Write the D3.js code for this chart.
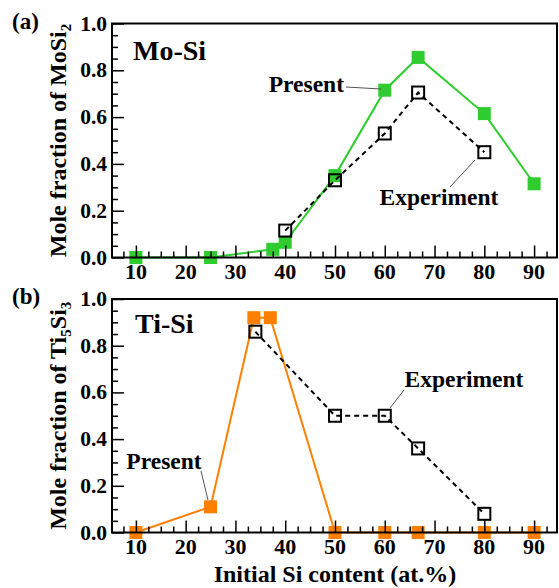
<!DOCTYPE html>
<html>
<head>
<meta charset="utf-8">
<script src="https://cdn.jsdelivr.net/npm/d3@7"></script>
<style>
  html, body { margin: 0; padding: 0; background: #fff; }
  svg { display: block; font-family: "Liberation Serif", "Times New Roman", serif; font-weight: bold; }
</style>
</head>
<body>
<svg id="chart" width="559" height="588"></svg>
<script>
// Shared axis ticks
const xTickValues = [10, 20, 30, 40, 50, 60, 70, 80, 90];
const yTickValues = [0, 0.2, 0.4, 0.6, 0.8, 1.0];

// (a) Mo-Si: mole fraction of MoSi2
const moSiPresentX = [10, 25, 37.5, 40, 50, 60, 66.7, 80, 90];
const moSiPresentY = [0, 0, 0.035, 0.065, 0.35, 0.715, 0.855, 0.615, 0.315];
const moSiExpX = [40, 50, 60, 66.7, 80];
const moSiExpY = [0.115, 0.33, 0.53, 0.705, 0.45];

// (b) Ti-Si: mole fraction of Ti5Si3
const tiSiPresentX = [10, 25, 33.7, 37, 50, 60, 66.7, 80, 90];
const tiSiPresentY = [0, 0.11, 0.92, 0.92, 0, 0, 0, 0, 0];
const tiSiExpX = [34, 50, 60, 66.7, 80];
const tiSiExpY = [0.86, 0.5, 0.5, 0.36, 0.08];

const svg = d3.select("#chart");
svg.append("rect").attr("width", 559).attr("height", 588).attr("fill", "#fff");

const plotLeft = 112, plotRight = 557;
const x = d3.scaleLinear().domain([5.2, 94.6]).range([plotLeft, plotRight]);

const zip = (xs, ys) => xs.map((v, i) => [v, ys[i]]);

function drawPanel(cfg) {
  const y = d3.scaleLinear().domain([0, 1]).range([cfg.bottom, cfg.top]);
  const g = svg.append("g");
  const line = d3.line().x(d => x(d[0])).y(d => y(d[1]));
  const present = zip(cfg.presentX, cfg.presentY);
  const exp = zip(cfg.expX, cfg.expY);
  const ms = 13;

  // calculated series
  g.append("path").datum(present).attr("d", line)
    .attr("fill", "none").attr("stroke", cfg.color).attr("stroke-width", 2);
  g.selectAll(".pm").data(present).enter().append("rect")
    .attr("x", d => x(d[0]) - ms / 2).attr("y", d => y(d[1]) - ms / 2)
    .attr("width", ms).attr("height", ms).attr("fill", cfg.color);

  // experimental series
  g.append("path").datum(exp).attr("d", line)
    .attr("fill", "none").attr("stroke", "#000").attr("stroke-width", 2)
    .attr("stroke-dasharray", "5,4");
  g.selectAll(".em").data(exp).enter().append("rect")
    .attr("x", d => x(d[0]) - 6).attr("y", d => y(d[1]) - 6)
    .attr("width", 12).attr("height", 12)
    .attr("fill", "none").attr("stroke", "#000").attr("stroke-width", 2);

  // axes with inward ticks
  const xMinor = d3.range(7.5, 94, 2.5).filter(v => !xTickValues.includes(v));
  const yMinor = d3.range(0.05, 1, 0.05).filter(v => !yTickValues.some(t => Math.abs(t - v) < 1e-6));

  g.append("g").attr("transform", `translate(0,${cfg.bottom})`)
    .call(d3.axisBottom(x).tickValues(xTickValues).tickSize(-12).tickFormat(""));
  g.append("g").attr("transform", `translate(0,${cfg.bottom})`)
    .call(d3.axisBottom(x).tickValues(xMinor).tickSize(-6).tickFormat(""));
  g.append("g").attr("transform", `translate(${plotLeft},0)`)
    .call(d3.axisLeft(y).tickValues(yTickValues).tickSize(-12).tickFormat(""));
  g.append("g").attr("transform", `translate(${plotLeft},0)`)
    .call(d3.axisLeft(y).tickValues(yMinor).tickSize(-6).tickFormat(""));
  g.selectAll(".domain").remove();
  g.selectAll(".tick line").attr("stroke", "#000").attr("stroke-width", 1.5);

  // frame
  g.append("rect").attr("x", plotLeft).attr("y", cfg.top)
    .attr("width", plotRight - plotLeft).attr("height", cfg.bottom - cfg.top)
    .attr("fill", "none").attr("stroke", "#000").attr("stroke-width", 2);

  // tick labels
  g.selectAll(".xl").data(xTickValues).enter().append("text")
    .attr("x", d => x(d)).attr("y", cfg.bottom + 21)
    .attr("text-anchor", "middle").attr("font-size", 22).text(d => d);
  g.selectAll(".yl").data(yTickValues).enter().append("text")
    .attr("x", 107).attr("y", d => y(d) + 7)
    .attr("text-anchor", "end").attr("font-size", 21.5).text(d => d.toFixed(1));

  // y title with subscript
  const ty = g.append("text")
    .attr("transform", `translate(66,${(cfg.top + cfg.bottom) / 2}) rotate(-90)`)
    .attr("text-anchor", "middle").attr("font-size", 24);
  ty.append("tspan").text(cfg.yTitle[0]);
  cfg.yTitle.slice(1).forEach((part, i) => {
    if (i % 2 === 0) {
      ty.append("tspan").attr("font-size", 15).attr("dy", 5).text(part);
    } else {
      ty.append("tspan").attr("dy", -5).text(part);
    }
  });

  // panel tag and system name
  g.append("text").attr("x", 12).attr("y", cfg.top + 5).attr("font-size", 23).text(cfg.tag);
  g.append("text").attr("x", cfg.nameX).attr("y", cfg.top + cfg.nameDy).attr("font-size", 28).text(cfg.name);

  // series labels with leader lines
  cfg.labels.forEach(l => {
    g.append("line").attr("x1", l.lx1).attr("y1", l.ly1).attr("x2", l.lx2).attr("y2", l.ly2)
      .attr("stroke", "#555").attr("stroke-width", 1);
    g.append("text").attr("x", l.tx).attr("y", l.ty).attr("text-anchor", l.anchor)
      .attr("font-size", 23.5).text(l.text);
  });
}

drawPanel({
  top: 23.5, bottom: 257.5, color: "#2ecc2e", tag: "(a)", name: "Mo-Si", nameX: 133, nameDy: 36,
  yTitle: ["Mole fraction of MoSi", "2"],
  presentX: moSiPresentX, presentY: moSiPresentY, expX: moSiExpX, expY: moSiExpY,
  labels: [
    { text: "Present", tx: 344, ty: 92, anchor: "end", lx1: 346, ly1: 87, lx2: 381, ly2: 89 },
    { text: "Experiment", tx: 439, ty: 205, anchor: "middle", lx1: 450, ly1: 187, lx2: 475, ly2: 160 }
  ]
});

drawPanel({
  top: 299, bottom: 532.5, color: "#ff8000", tag: "(b)", name: "Ti-Si", nameX: 135, nameDy: 34,
  yTitle: ["Mole fraction of Ti", "5", "Si", "3"],
  presentX: tiSiPresentX, presentY: tiSiPresentY, expX: tiSiExpX, expY: tiSiExpY,
  labels: [
    { text: "Present", tx: 164, ty: 469, anchor: "middle", lx1: 201, ly1: 471, lx2: 208, ly2: 500 },
    { text: "Experiment", tx: 464, ty: 387, anchor: "middle", lx1: 404, ly1: 390, lx2: 390, ly2: 408 }
  ]
});

// shared x title
svg.append("text").attr("x", 335).attr("y", 582).attr("text-anchor", "middle")
  .attr("font-size", 24).text("Initial Si content (at.%)");
</script>
</body>
</html>
